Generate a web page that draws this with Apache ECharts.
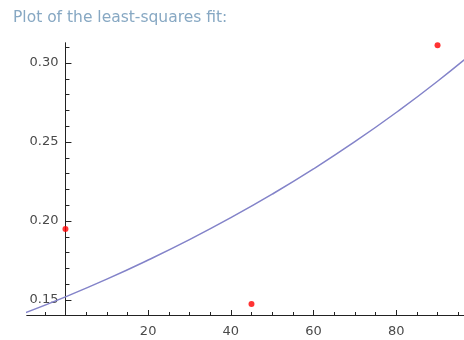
<!DOCTYPE html>
<html><head><meta charset="utf-8">
<script src="https://cdn.jsdelivr.net/npm/echarts@6/dist/echarts.min.js"></script>
<style>html,body{margin:0;padding:0;background:#fff}#c{width:464px;height:340px}</style>
</head><body><div id="c"></div>
<script>
var dataX = [0, 45, 90];
var dataY = [0.195, 0.1475, 0.3113];
var fitX = [-10, 0, 10, 20, 30, 40, 50, 60, 70, 80, 90, 100];
var fitY = [0.1416, 0.152, 0.1632, 0.1753, 0.1882, 0.2021, 0.2170, 0.2330, 0.2502, 0.2687, 0.2885, 0.3098];
var xMajor = [20, 40, 60, 80];
var xMinor = [-5, 5, 10, 15, 25, 30, 35, 45, 50, 55, 65, 70, 75, 85, 90, 95];
var yMajor = [0.15, 0.20, 0.25, 0.30];
var yMinor = [0.16, 0.17, 0.18, 0.19, 0.21, 0.22, 0.23, 0.24, 0.26, 0.27, 0.28, 0.29, 0.31];
var titleText = 'Plot of the least-squares fit:';

var chart = echarts.init(document.getElementById('c'), null, {renderer: 'canvas'});
var gridLeft = 27, gridRight = 0, W = 464;
var xMin = -9.3, xMax = 96.4, yMin = 0.1405, yMax = 0.3127;
var yAxisOffset = -((0 - xMin) / (xMax - xMin)) * (W - gridLeft - gridRight);
var lineCol = '#222';
var labelFont = {fontFamily: 'DejaVu Sans', fontSize: 13, color: '#4a4a4a'};
function xAx(ticks, len, labels) {
  return {
    type: 'value', min: xMin, max: xMax, position: 'bottom',
    splitLine: {show: false},
    axisLine: {show: true, onZero: false, lineStyle: {color: lineCol, width: 1}},
    axisTick: {show: true, inside: true, length: len, customValues: ticks, lineStyle: {color: lineCol}},
    axisLabel: Object.assign({show: !!labels, customValues: labels || [], margin: 10}, labelFont)
  };
}
function yAx(ticks, len, labels) {
  return {
    type: 'value', min: yMin, max: yMax, position: 'left', offset: yAxisOffset,
    splitLine: {show: false},
    axisLine: {show: true, onZero: false, lineStyle: {color: lineCol, width: 1}},
    axisTick: {show: true, inside: true, length: len, customValues: ticks, lineStyle: {color: lineCol}},
    axisLabel: Object.assign({show: !!labels, customValues: labels || [], margin: 7,
      formatter: function (v) { return v.toFixed(2); }}, labelFont)
  };
}
chart.setOption({
  animation: false,
  title: {text: titleText, left: 8, top: 5,
    textStyle: {fontFamily: 'DejaVu Sans', fontSize: 15.5, fontWeight: 'normal', color: '#87a8c3'}},
  grid: {left: gridLeft, right: gridRight, top: 43, bottom: 25, containLabel: false, outerBoundsMode: 'none'},
  xAxis: [xAx(xMajor.concat([0]), 5, xMajor), xAx(xMinor, 3, null)],
  yAxis: [yAx(yMajor, 6, yMajor), yAx(yMinor, 4, null)],
  series: [
    {type: 'line', xAxisIndex: 0, yAxisIndex: 0, smooth: true, showSymbol: false,
      data: fitX.map(function (x, i) { return [x, fitY[i]]; }),
      lineStyle: {color: '#8383c9', width: 1.5},
      markLine: {silent: true, symbol: 'none', label: {show: false},
        lineStyle: {color: lineCol, width: 1, type: 'solid'},
        data: [[{coord: [0, 0.1367]}, {coord: [0, yMin]}]]}},
    {type: 'scatter', xAxisIndex: 0, yAxisIndex: 0, symbolSize: 6,
      data: dataX.map(function (x, i) { return [x, dataY[i]]; }),
      itemStyle: {color: '#ff0000'}}
  ]
});
</script></body></html>
